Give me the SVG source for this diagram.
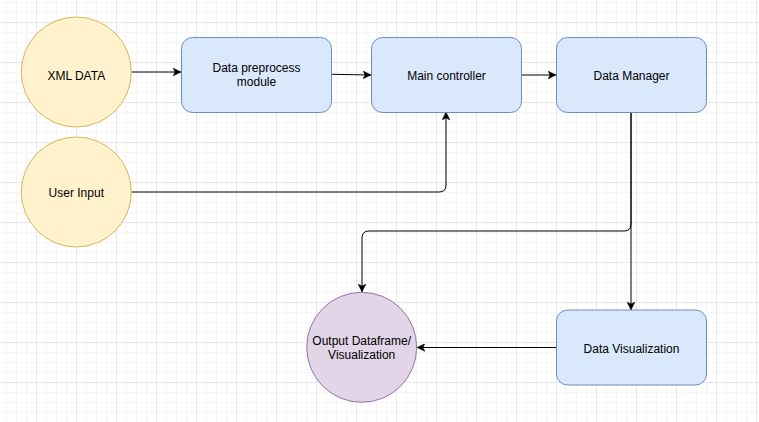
<svg xmlns="http://www.w3.org/2000/svg" width="759" height="422" viewBox="0 0 759 422">
<style>
.txt{font-family:"Liberation Sans",Arial,sans-serif;font-size:12px;fill:#000;text-anchor:middle}
.yel{fill:#fff2cc;stroke:#d6b656;stroke-width:1}
.blu{fill:#dae8fc;stroke:#6c8ebf;stroke-width:1}
.pur{fill:#e1d5e7;stroke:#9673a6;stroke-width:1}
.edge{fill:none;stroke:#000;stroke-width:1;marker-end:url(#arr)}
</style>
<defs>
<marker id="arr" viewBox="0 0 10 10" refX="10" refY="5" markerWidth="8" markerHeight="8" markerUnits="userSpaceOnUse" orient="auto">
<path d="M0,0 L10,5 L0,10 L2.5,5 Z" fill="#000" stroke="#000" stroke-width="0.5"/>
</marker>
<pattern id="grid" x="36" y="22" width="40" height="40" patternUnits="userSpaceOnUse">
<path d="M10.5,0 V40 M20.5,0 V40 M30.5,0 V40 M0,10.5 H40 M0,20.5 H40 M0,30.5 H40" stroke="#f5f5f5" stroke-width="1" fill="none"/>
<path d="M0.5,0 V40 M0,0.5 H40" stroke="#e8e8e8" stroke-width="1" fill="none"/>
</pattern>
</defs>
<rect width="759" height="422" fill="#fff"/>
<rect width="759" height="422" fill="url(#grid)"/>
<g id="connectors">
<path class="edge" d="M131,72 H181"/>
<path class="edge" d="M331,74.3 L371,75"/>
<path class="edge" d="M521,75 H556"/>
<path class="edge" d="M131,192 H439 Q446,192 446,185 V112"/>
<path class="edge" d="M631,112 V224 Q631,231 624,231 H369 Q362,231 362,238 V292"/>
<path class="edge" d="M631,112 V310"/>
<path class="edge" d="M556,347.5 H417"/>
</g>
<g id="xml-data">
<circle class="yel" cx="76.3" cy="72" r="55"/>
<text class="txt" x="76.3" y="80">XML DATA</text>
</g>
<g id="user-input">
<circle class="yel" cx="76.3" cy="192" r="55"/>
<text class="txt" x="76.3" y="196.5">User Input</text>
</g>
<g id="data-preprocess">
<rect class="blu" x="181.5" y="37.5" width="150" height="75" rx="11" ry="11"/>
<text class="txt" x="256.5" y="72">Data preprocess</text>
<text class="txt" x="256.5" y="86">module</text>
</g>
<g id="main-controller">
<rect class="blu" x="371.5" y="37.5" width="150" height="75" rx="11" ry="11"/>
<text class="txt" x="446.5" y="79.5">Main controller</text>
</g>
<g id="data-manager">
<rect class="blu" x="556.5" y="37.5" width="150" height="75" rx="11" ry="11"/>
<text class="txt" x="631.5" y="79.5">Data Manager</text>
</g>
<g id="data-visualization">
<rect class="blu" x="556.5" y="310" width="150" height="75" rx="11" ry="11"/>
<text class="txt" x="631.5" y="352.5">Data Visualization</text>
</g>
<g id="output">
<circle class="pur" cx="361.7" cy="347.3" r="55"/>
<text class="txt" x="361.7" y="345">Output Dataframe/</text>
<text class="txt" x="361.7" y="359">Visualization</text>
</g>
</svg>
